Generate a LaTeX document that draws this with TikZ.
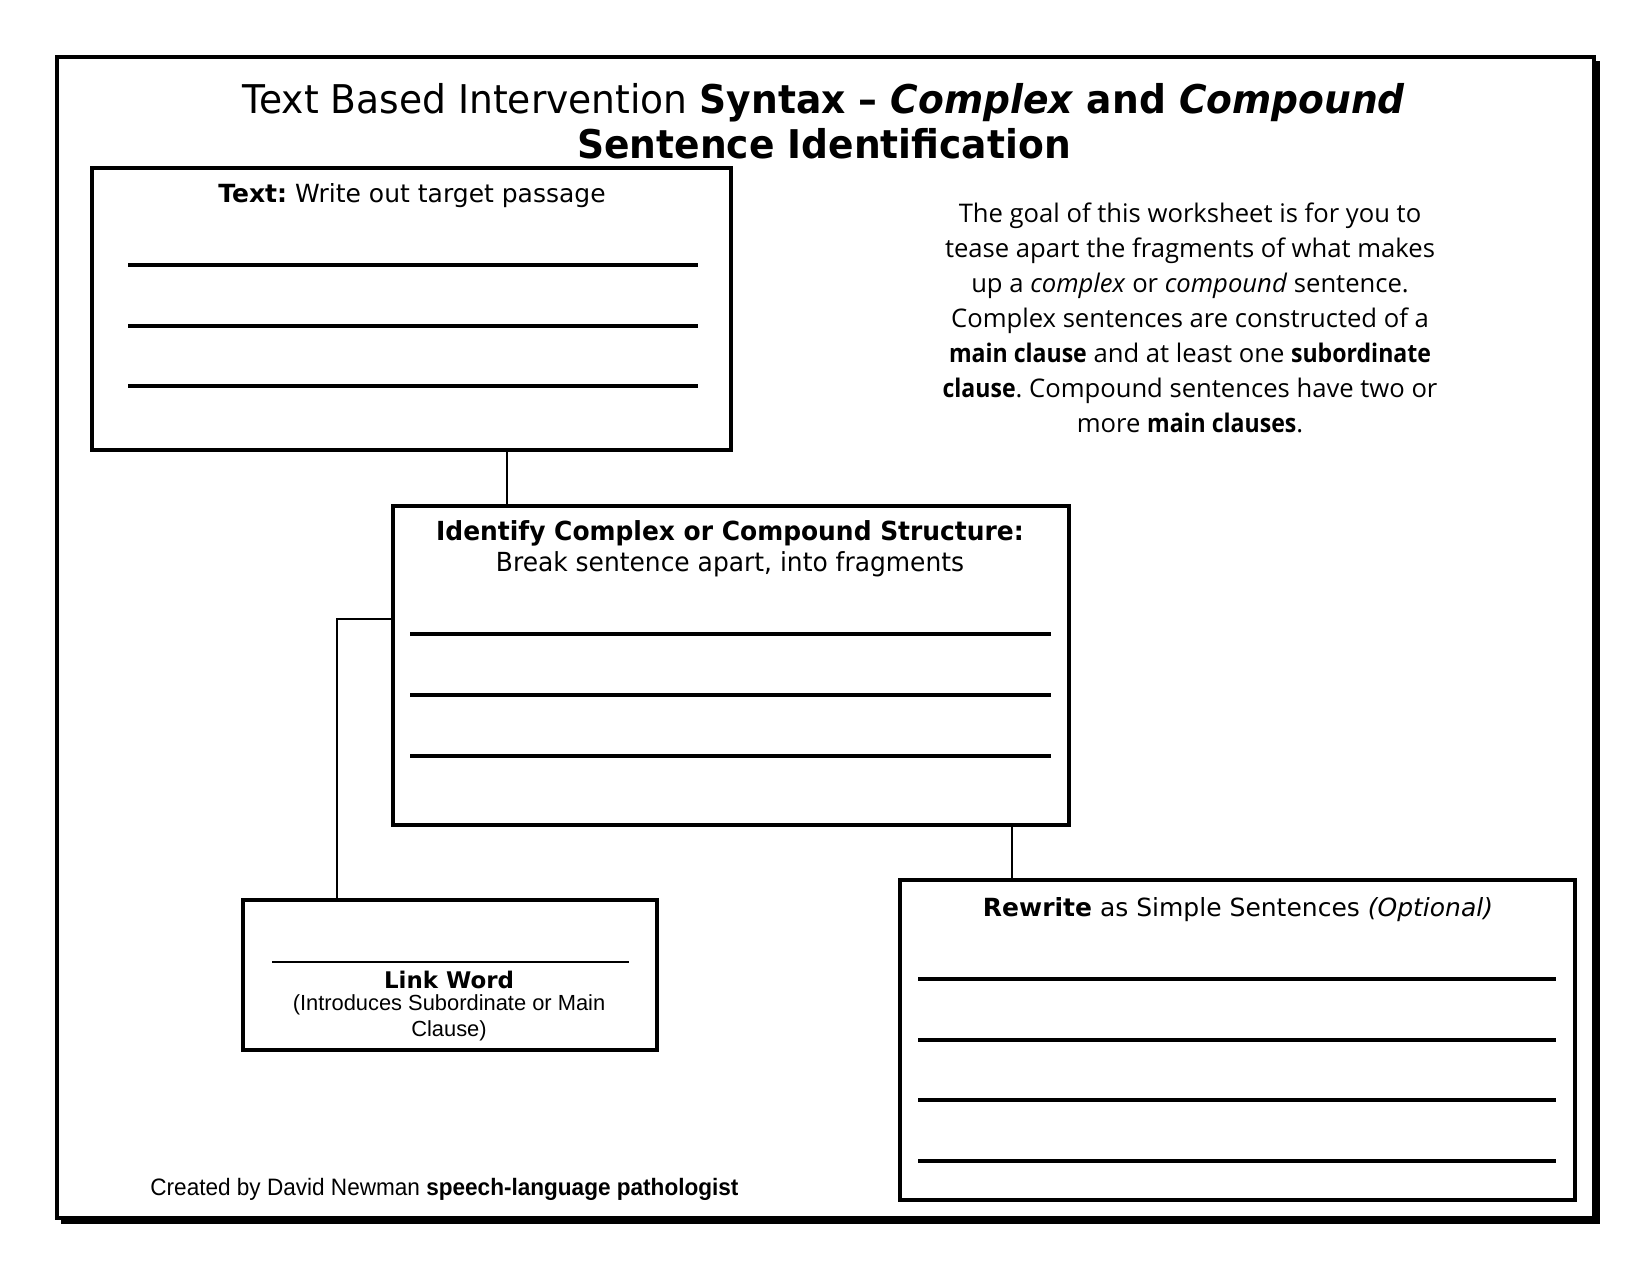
\documentclass[tikz,border=0pt]{standalone}
\usepackage{fontspec}
\setmainfont{DejaVu Sans}
\newfontfamily\tahoma[FakeStretch=0.95]{DejaVu Sans}
\newfontfamily\verd{DejaVu Sans}
\newfontfamily\comic[BoldFeatures={FakeStretch=0.9}]{Open Sans}
\newfontfamily\arial{Liberation Sans}
\newfontfamily\frank[FakeStretch=0.95]{Liberation Sans}
\usetikzlibrary{fit}
\frenchspacing
\tikzset{
  box/.style={draw, line width=1.92pt, inner sep=0pt, fill=white},
  wline/.style={line width=1.9pt},
  conn/.style={line width=0.75pt},
  lbl/.style={inner sep=0pt, align=center}
}
\begin{document}
\begin{tikzpicture}[x=0.48pt,y=-0.48pt]
\useasboundingbox (0,0) rectangle (1650,1275);
% outer frame with shadow
\draw[line width=1.92pt] (1598,61) -- (1598,1222) -- (61,1222);
\node[box, fit={(57,57) (1594,1218)}] (frame) {};
% title
\node[lbl, font=\tahoma\fontsize{19}{21.5}\selectfont] (title) at (824,121)
  {Text Based Intervention \textbf{Syntax – \textit{Complex} and \textit{Compound}}\\ \textbf{Sentence Identification}};
% text box
\node[box, fit={(92,168) (731,450)}] (text) {};
\node[lbl, font=\verd\fontsize{12}{14}\selectfont] (textlbl) at (412,196) {\textbf{Text:} Write out target passage};
\foreach \y in {265,326,386} \draw[wline] (128,\y) -- (698,\y);
% goal paragraph
\node[lbl, font=\comic\fontsize{12.3}{16.8}\selectfont] (goal) at (1190,318)
  {The goal of this worksheet is for you to\\
   tease apart the fragments of what makes\\
   up a \textit{complex} or \textit{compound} sentence.\\
   Complex sentences are constructed of a\\
   \textbf{main clause} and at least one \textbf{subordinate}\\
   \textbf{clause}. Compound sentences have two or\\
   more \textbf{main clauses}.};
% identify box
\node[box, fit={(393,506) (1069,825)}] (ident) {};
\node[lbl, font=\tahoma\fontsize{12.6}{15}\selectfont] (identlbl) at (730,549)
  {\textbf{Identify Complex or Compound Structure:}\\ Break sentence apart, into fragments};
\foreach \y in {634,695,756} \draw[wline] (410,\y) -- (1051,\y);
% link box
\node[box, fit={(243,900) (657,1050)}] (link) {};
\draw[line width=1pt] (272,962) -- (629,962);
\node[lbl, font=\verd\bfseries\fontsize{11}{13}\selectfont] (linklbl) at (449,980) {Link Word};
\node[lbl, font=\arial\fontsize{10.5}{12.2}\selectfont] (linksub) at (449,1018) {(Introduces Subordinate or Main\\ Clause)};
% rewrite box
\node[box, fit={(900,880) (1575,1200)}] (rew) {};
\node[lbl, font=\verd\fontsize{12}{14}\selectfont] (rewlbl) at (1238,910) {\textbf{Rewrite} as Simple Sentences \textit{(Optional)}};
\foreach \y in {979,1040,1100,1161} \draw[wline] (918,\y) -- (1556,\y);
% footer
\node[lbl, anchor=west, font=\frank\fontsize{11.4}{13}\selectfont] (footer) at (150,1189) {Created by David Newman \textbf{speech-language pathologist}};
% connectors
\coordinate (k1) at (507,0);
\coordinate (k2) at (337,619);
\coordinate (k3) at (1012,0);
\draw[conn] (text.south -| k1) -- (ident.north -| k1);
\draw[conn] (ident.west |- k2) -- (k2) -- (link.north -| k2);
\draw[conn] (ident.south -| k3) -- (rew.north -| k3);
\end{tikzpicture}
\end{document}
